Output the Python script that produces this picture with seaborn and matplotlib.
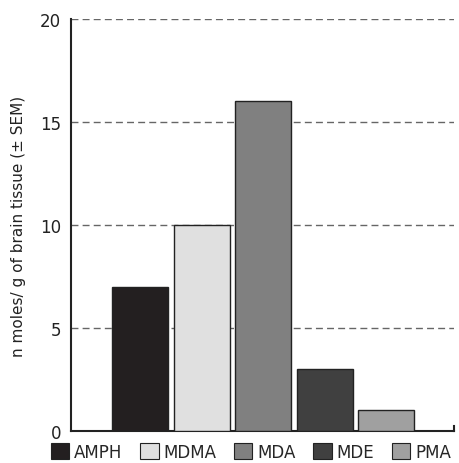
import matplotlib
matplotlib.use('Agg')
import matplotlib.pyplot as plt
from matplotlib.patches import Patch
import seaborn as sns
import pandas as pd

drugs = ['AMPH', 'MDMA', 'MDA', 'MDE', 'PMA']
levels = [7, 10, 16, 3, 1]
colors = ['#231f20', '#e0e0e0', '#808080', '#404040', '#a0a0a0']

df = pd.DataFrame({'drug': drugs, 'level': levels})

sns.set_style('white')
plt.rcParams['font.family'] = ['DejaVu Sans']

fig = plt.figure(figsize=(4.59, 4.64), dpi=100)
ax = fig.add_axes([0.1547, 0.069, 0.8343, 0.888])

sns.barplot(data=df, x='drug', y='level', hue='drug', palette=colors,
            width=0.91, edgecolor='#222222', linewidth=1, legend=False,
            saturation=1, ax=ax, zorder=3)

ax.set_ylim(0, 20)
ax.set_xlim(-1.12, 5.1)
ax.set_yticks([0, 5, 10, 15, 20])
ax.set_xticks([])
ax.set_xlabel('')
ax.set_ylabel('n moles/ g of brain tissue (± SEM)', fontsize=11, labelpad=10,
              color='#222222')
ax.tick_params(axis='y', length=0, pad=7, labelsize=12, colors='#222222')

ax.yaxis.grid(True, linestyle=(0, (5, 3)), color='#666666', linewidth=1)
ax.set_axisbelow(True)

ax.spines['top'].set_visible(False)
for s in ['left', 'bottom', 'right']:
    ax.spines[s].set_color('#222222')
    ax.spines[s].set_linewidth(1.5)
ax.spines['right'].set_bounds(0, 0.25)

handles = [Patch(facecolor=c, edgecolor='#222222', linewidth=0.8, label=d)
           for d, c in zip(drugs, colors)]
ax.legend(handles=handles, loc='upper center', bbox_to_anchor=(0.47, -0.028),
          ncol=5, frameon=False, handlelength=1.1, handleheight=1.1,
          handletextpad=0.3, columnspacing=1.05, fontsize=12,
          borderaxespad=0, borderpad=0)

fig.savefig('out.png', dpi=100)
